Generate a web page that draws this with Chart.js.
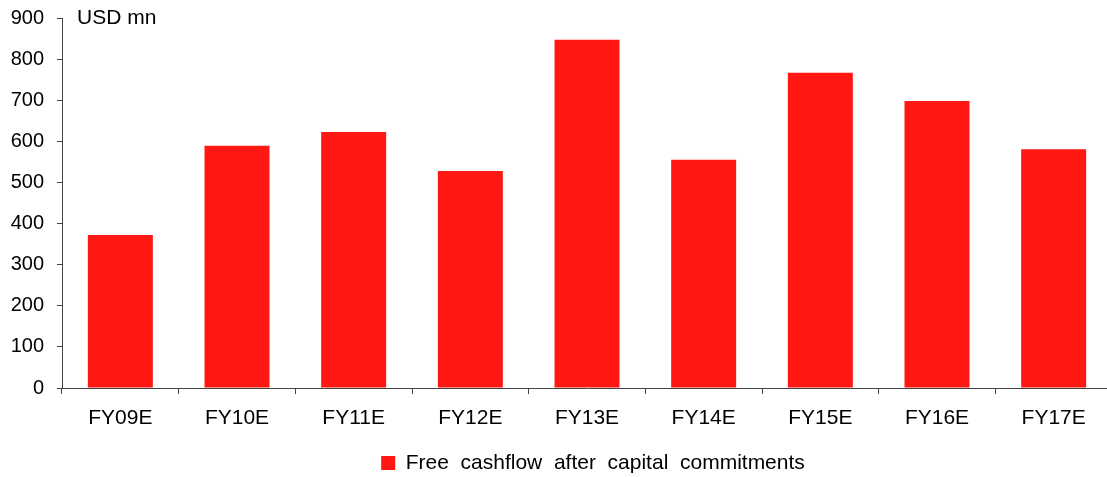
<!DOCTYPE html>
<html>
<head>
<meta charset="utf-8">
<script src="https://cdn.jsdelivr.net/npm/chart.js@4/dist/chart.umd.min.js"></script>
<style>
  html, body { margin: 0; padding: 0; background: #fff; overflow: hidden; }
  #wrap { width: 1112px; height: 477px; position: relative; }
</style>
</head>
<body>
<div id="wrap"><canvas id="c"></canvas></div>
<script>
// Fiscal years (estimates)
const categories = ['FY09E', 'FY10E', 'FY11E', 'FY12E', 'FY13E', 'FY14E', 'FY15E', 'FY16E', 'FY17E'];
// Free cashflow after capital commitments, USD mn
const freeCashflow = [372, 589, 623, 528, 847, 555, 767, 698, 581];
const seriesName = 'Free  cashflow  after  capital  commitments';
const unitLabel = 'USD mn';
const yMin = 0, yMax = 900, yStep = 100;

const FONT = '"Liberation Sans", Arial, Helvetica, sans-serif';
const AXIS = '#444444';
const RED = '#ff1712';

// Unit caption in the top-left corner of the plot
const unitCaption = {
  id: 'unitCaption',
  afterDraw(chart) {
    const { ctx, chartArea } = chart;
    ctx.save();
    ctx.font = '21px ' + FONT;
    ctx.fillStyle = '#000';
    ctx.textAlign = 'left';
    ctx.textBaseline = 'alphabetic';
    ctx.fillText(unitLabel, chartArea.left + 15, 24);
    ctx.restore();
  }
};

// Nudge the legend right and down a little under the bars
const legendNudge = {
  id: 'legendNudge',
  afterLayout(chart) {
    const lg = chart.legend;
    if (lg) {
      lg.left += 6; lg.right += 6;
      lg.top += 6.5; lg.bottom += 6.5;
    }
  }
};

new Chart(document.getElementById('c'), {
  type: 'bar',
  data: {
    labels: categories,
    datasets: [{
      label: seriesName,
      data: freeCashflow,
      backgroundColor: RED,
      borderWidth: 0,
      categoryPercentage: 1.0,
      barPercentage: 0.557
    }]
  },
  options: {
    responsive: true,
    maintainAspectRatio: false,
    animation: false,
    devicePixelRatio: 1,
    layout: { padding: { top: 18, right: 0, bottom: 0, left: 0 } },
    plugins: {
      title: { display: false },
      tooltip: { enabled: false },
      legend: {
        display: true,
        position: 'bottom',
        fullSize: false,
        labels: {
          font: { family: FONT, size: 21 },
          color: '#000',
          boxWidth: 14,
          boxHeight: 14,
          padding: 2
        }
      }
    },
    scales: {
      x: {
        offset: true,
        grid: {
          offset: true,
          drawOnChartArea: false,
          drawTicks: true,
          tickLength: 6,
          color: AXIS,
          lineWidth: 1
        },
        border: { display: true, color: AXIS, width: 1 },
        ticks: {
          font: { family: FONT, size: 21 },
          color: '#000',
          padding: 12,
          maxRotation: 0
        },
        afterFit(s) { s.height = 56; }
      },
      y: {
        min: yMin,
        max: yMax,
        grid: {
          drawOnChartArea: false,
          drawTicks: true,
          tickLength: 5,
          color: AXIS,
          lineWidth: 1
        },
        border: { display: true, color: AXIS, width: 1 },
        ticks: {
          stepSize: yStep,
          font: { family: FONT, size: 20 },
          color: '#000',
          padding: 13
        },
        afterFit(s) { s.width = 62; s.paddingTop = 0; s.paddingBottom = 0; }
      }
    }
  },
  plugins: [unitCaption, legendNudge]
});
</script>
</body>
</html>
